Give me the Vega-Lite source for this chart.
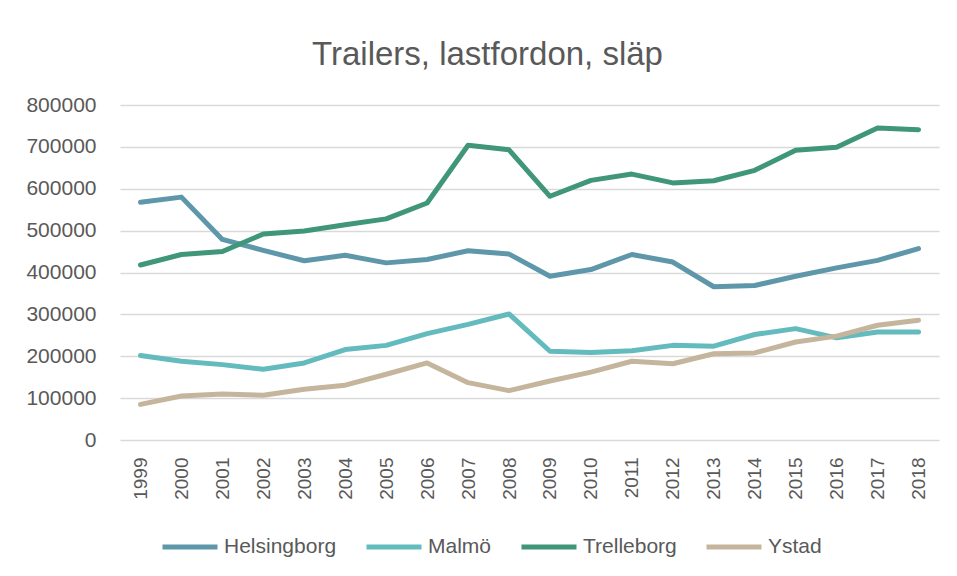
{
  "$schema": "https://vega.github.io/schema/vega-lite/v6.json",
  "width": 819,
  "height": 335,
  "autosize": "none",
  "padding": {"left": 120, "top": 105, "right": 18, "bottom": 136},
  "background": "white",
  "title": {
    "text": "Trailers, lastfordon, släp",
    "font": "Liberation Sans",
    "fontSize": 33,
    "fontWeight": "normal",
    "color": "#595959",
    "anchor": "middle",
    "frame": "group",
    "dx": -42,
    "offset": 22
  },
  "data": {
    "values": [
      {"year": "1999", "city": "Helsingborg", "value": 568000},
      {"year": "2000", "city": "Helsingborg", "value": 580000},
      {"year": "2001", "city": "Helsingborg", "value": 479000},
      {"year": "2002", "city": "Helsingborg", "value": 453000},
      {"year": "2003", "city": "Helsingborg", "value": 428000},
      {"year": "2004", "city": "Helsingborg", "value": 441000},
      {"year": "2005", "city": "Helsingborg", "value": 423000},
      {"year": "2006", "city": "Helsingborg", "value": 431000},
      {"year": "2007", "city": "Helsingborg", "value": 452000},
      {"year": "2008", "city": "Helsingborg", "value": 444000},
      {"year": "2009", "city": "Helsingborg", "value": 391000},
      {"year": "2010", "city": "Helsingborg", "value": 407000},
      {"year": "2011", "city": "Helsingborg", "value": 443000},
      {"year": "2012", "city": "Helsingborg", "value": 425000},
      {"year": "2013", "city": "Helsingborg", "value": 366000},
      {"year": "2014", "city": "Helsingborg", "value": 369000},
      {"year": "2015", "city": "Helsingborg", "value": 391000},
      {"year": "2016", "city": "Helsingborg", "value": 411000},
      {"year": "2017", "city": "Helsingborg", "value": 429000},
      {"year": "2018", "city": "Helsingborg", "value": 457000},
      {"year": "1999", "city": "Malmö", "value": 202000},
      {"year": "2000", "city": "Malmö", "value": 188000},
      {"year": "2001", "city": "Malmö", "value": 180000},
      {"year": "2002", "city": "Malmö", "value": 169000},
      {"year": "2003", "city": "Malmö", "value": 184000},
      {"year": "2004", "city": "Malmö", "value": 216000},
      {"year": "2005", "city": "Malmö", "value": 226000},
      {"year": "2006", "city": "Malmö", "value": 254000},
      {"year": "2007", "city": "Malmö", "value": 276000},
      {"year": "2008", "city": "Malmö", "value": 301000},
      {"year": "2009", "city": "Malmö", "value": 212000},
      {"year": "2010", "city": "Malmö", "value": 209000},
      {"year": "2011", "city": "Malmö", "value": 213000},
      {"year": "2012", "city": "Malmö", "value": 226000},
      {"year": "2013", "city": "Malmö", "value": 224000},
      {"year": "2014", "city": "Malmö", "value": 252000},
      {"year": "2015", "city": "Malmö", "value": 266000},
      {"year": "2016", "city": "Malmö", "value": 244000},
      {"year": "2017", "city": "Malmö", "value": 258000},
      {"year": "2018", "city": "Malmö", "value": 258000},
      {"year": "1999", "city": "Trelleborg", "value": 418000},
      {"year": "2000", "city": "Trelleborg", "value": 443000},
      {"year": "2001", "city": "Trelleborg", "value": 450000},
      {"year": "2002", "city": "Trelleborg", "value": 492000},
      {"year": "2003", "city": "Trelleborg", "value": 499000},
      {"year": "2004", "city": "Trelleborg", "value": 514000},
      {"year": "2005", "city": "Trelleborg", "value": 528000},
      {"year": "2006", "city": "Trelleborg", "value": 566000},
      {"year": "2007", "city": "Trelleborg", "value": 704000},
      {"year": "2008", "city": "Trelleborg", "value": 693000},
      {"year": "2009", "city": "Trelleborg", "value": 582000},
      {"year": "2010", "city": "Trelleborg", "value": 620000},
      {"year": "2011", "city": "Trelleborg", "value": 635000},
      {"year": "2012", "city": "Trelleborg", "value": 614000},
      {"year": "2013", "city": "Trelleborg", "value": 619000},
      {"year": "2014", "city": "Trelleborg", "value": 644000},
      {"year": "2015", "city": "Trelleborg", "value": 692000},
      {"year": "2016", "city": "Trelleborg", "value": 699000},
      {"year": "2017", "city": "Trelleborg", "value": 745000},
      {"year": "2018", "city": "Trelleborg", "value": 741000},
      {"year": "1999", "city": "Ystad", "value": 85000},
      {"year": "2000", "city": "Ystad", "value": 105000},
      {"year": "2001", "city": "Ystad", "value": 110000},
      {"year": "2002", "city": "Ystad", "value": 107000},
      {"year": "2003", "city": "Ystad", "value": 121000},
      {"year": "2004", "city": "Ystad", "value": 131000},
      {"year": "2005", "city": "Ystad", "value": 157000},
      {"year": "2006", "city": "Ystad", "value": 184000},
      {"year": "2007", "city": "Ystad", "value": 137000},
      {"year": "2008", "city": "Ystad", "value": 118000},
      {"year": "2009", "city": "Ystad", "value": 141000},
      {"year": "2010", "city": "Ystad", "value": 162000},
      {"year": "2011", "city": "Ystad", "value": 188000},
      {"year": "2012", "city": "Ystad", "value": 182000},
      {"year": "2013", "city": "Ystad", "value": 206000},
      {"year": "2014", "city": "Ystad", "value": 208000},
      {"year": "2015", "city": "Ystad", "value": 234000},
      {"year": "2016", "city": "Ystad", "value": 248000},
      {"year": "2017", "city": "Ystad", "value": 274000},
      {"year": "2018", "city": "Ystad", "value": 286000}
    ]
  },
  "mark": {"type": "line", "strokeWidth": 5, "strokeCap": "round", "strokeJoin": "round"},
  "encoding": {
    "x": {
      "field": "year",
      "type": "ordinal",
      "scale": {"type": "point", "padding": 0.5},
      "axis": {
        "title": null,
        "labelAngle": -90,
        "labelFont": "Liberation Sans",
        "labelFontSize": 19,
        "labelColor": "#595959",
        "labelPadding": 17,
        "ticks": false,
        "domain": false,
        "grid": false
      }
    },
    "y": {
      "field": "value",
      "type": "quantitative",
      "scale": {"domain": [0, 800000], "nice": false},
      "axis": {
        "title": null,
        "values": [0, 100000, 200000, 300000, 400000, 500000, 600000, 700000, 800000],
        "format": "d",
        "labelFont": "Liberation Sans",
        "labelFontSize": 21,
        "labelColor": "#595959",
        "labelPadding": 24,
        "ticks": false,
        "domain": false,
        "grid": true,
        "gridColor": "#D9D9D9",
        "gridWidth": 1.3
      }
    },
    "color": {
      "field": "city",
      "type": "nominal",
      "scale": {
        "domain": ["Helsingborg", "Malmö", "Trelleborg", "Ystad"],
        "range": ["#5E97AA", "#63BBBE", "#3F9679", "#C5B59C"]
      },
      "legend": {
        "title": null,
        "orient": "none",
        "direction": "horizontal",
        "legendX": 40,
        "legendY": 412,
        "padding": 0,
        "symbolType": "stroke",
        "symbolSize": 3025,
        "symbolStrokeWidth": 5,
        "labelOffset": 4,
        "columnPadding": 19,
        "labelFont": "Liberation Sans",
        "labelFontSize": 21,
        "labelColor": "#595959"
      }
    }
  },
  "config": {"view": {"stroke": null}}
}
